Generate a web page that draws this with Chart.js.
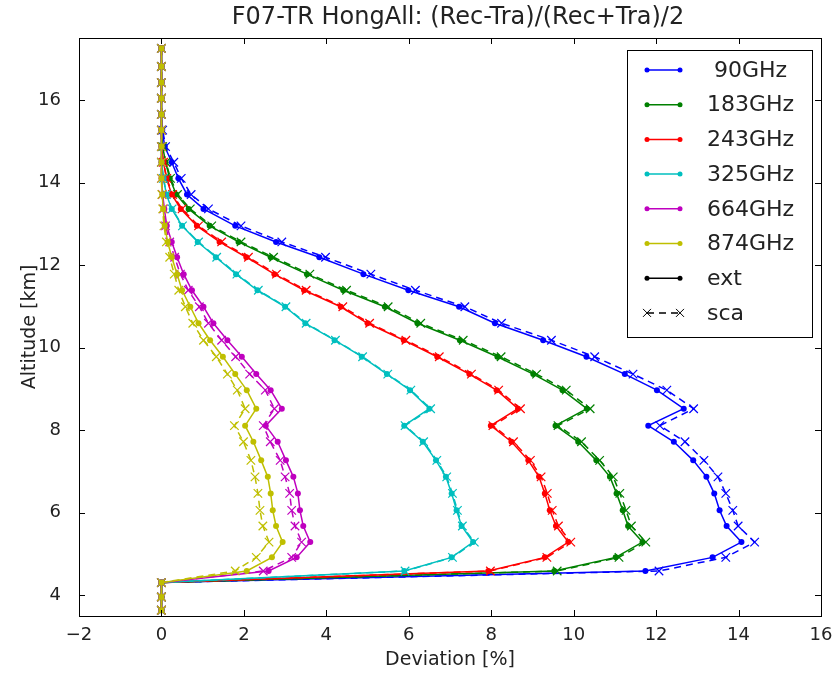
<!DOCTYPE html>
<html>
<head>
<meta charset="utf-8">
<script src="https://cdn.jsdelivr.net/npm/chart.js@4.4.0/dist/chart.umd.min.js"></script>
<style>
  body { margin: 0; background: #fff; }
  #wrap { width: 835px; height: 673px; }
</style>
</head>
<body>
<div id="wrap"><canvas id="chart" width="835" height="673"></canvas></div>
<script>
// altitude levels [km], shared by every profile
const altitude = [17.25, 16.81, 16.42, 16.04, 15.65, 15.27, 14.87, 14.49, 14.10, 13.71, 13.36, 12.95,
  12.56, 12.19, 11.78, 11.39, 10.99, 10.59, 10.18, 9.78, 9.36, 8.97, 8.52, 8.11,
  7.72, 7.27, 6.87, 6.47, 6.06, 5.68, 5.29, 4.92, 4.59, 4.31, 3.96, 3.64];

// deviation [%], ext = solid with dots, sca = dashed with crosses
const ext90 = [0, 0, 0, 0, 0, 0.02, 0.08, 0.25, 0.41, 0.62, 1.02, 1.79, 2.78, 3.83, 4.90, 5.99, 7.22, 8.09,
  9.26, 10.31, 11.24, 12.02, 12.67, 11.81, 12.43, 12.90, 13.22, 13.41, 13.54, 13.71, 14.07, 13.37, 11.74, 0, 0, 0];
const sca90 = [0, 0, 0, 0, 0, 0.03, 0.10, 0.30, 0.48, 0.72, 1.14, 1.93, 2.92, 3.98, 5.08, 6.16, 7.36, 8.25,
  9.46, 10.51, 11.44, 12.26, 12.91, 12.09, 12.70, 13.16, 13.50, 13.69, 13.86, 13.99, 14.39, 13.69, 12.07, 0, 0, 0];
const ext183 = [0, 0, 0, 0, 0, 0, 0.03, 0.10, 0.20, 0.36, 0.66, 1.17, 1.87, 2.65, 3.53, 4.41, 5.42, 6.21,
  7.24, 8.15, 9.02, 9.73, 10.32, 9.56, 10.11, 10.55, 10.88, 11.04, 11.19, 11.32, 11.67, 11.02, 9.53, 0, 0, 0];
const sca183 = [0, 0, 0, 0, 0, 0, 0.03, 0.11, 0.22, 0.39, 0.70, 1.22, 1.93, 2.72, 3.60, 4.49, 5.50, 6.29,
  7.32, 8.24, 9.10, 9.82, 10.40, 9.62, 10.19, 10.63, 10.96, 11.12, 11.27, 11.40, 11.75, 11.10, 9.60, 0, 0, 0];
const ext243 = [0, 0, 0, 0, 0, 0, 0, 0.05, 0.12, 0.25, 0.47, 0.86, 1.41, 2.06, 2.74, 3.46, 4.35, 5.00,
  5.88, 6.69, 7.47, 8.13, 8.65, 7.99, 8.49, 8.90, 9.16, 9.30, 9.42, 9.57, 9.87, 9.30, 7.93, 0, 0, 0];
const sca243 = [0, 0, 0, 0, 0, 0, 0, 0.05, 0.13, 0.27, 0.50, 0.90, 1.46, 2.11, 2.79, 3.51, 4.40, 5.05,
  5.93, 6.74, 7.52, 8.18, 8.71, 8.04, 8.54, 8.95, 9.21, 9.36, 9.48, 9.63, 9.93, 9.35, 7.98, 0, 0, 0];
const ext325 = [0, 0, 0, 0, 0, 0, 0, 0, 0.05, 0.12, 0.25, 0.50, 0.88, 1.32, 1.81, 2.33, 3.00, 3.49,
  4.20, 4.86, 5.47, 6.03, 6.50, 5.89, 6.34, 6.66, 6.90, 7.04, 7.16, 7.28, 7.56, 7.04, 5.89, 0, 0, 0];
const sca325 = [0, 0, 0, 0, 0, 0, 0, 0, 0.05, 0.12, 0.26, 0.51, 0.90, 1.34, 1.83, 2.35, 3.02, 3.51,
  4.22, 4.88, 5.49, 6.05, 6.53, 5.91, 6.36, 6.68, 6.92, 7.06, 7.18, 7.30, 7.59, 7.06, 5.91, 0, 0, 0];
const ext664 = [0, 0, 0, 0, 0, 0, 0, 0, 0, 0.03, 0.07, 0.13, 0.25, 0.38, 0.54, 0.74, 1.02, 1.26,
  1.60, 1.95, 2.30, 2.65, 2.92, 2.53, 2.82, 3.02, 3.20, 3.31, 3.36, 3.44, 3.61, 3.28, 2.60, 0, 0, 0];
const sca664 = [0, 0, 0, 0, 0, 0, 0, 0, 0, 0.02, 0.05, 0.10, 0.20, 0.32, 0.46, 0.65, 0.92, 1.14,
  1.46, 1.80, 2.14, 2.52, 2.74, 2.47, 2.64, 2.88, 3.00, 3.11, 3.16, 3.24, 3.40, 3.16, 2.47, 0, 0, 0];
const ext874 = [0, 0, 0, 0, 0, 0, 0, 0, 0, 0.02, 0.04, 0.08, 0.15, 0.25, 0.38, 0.50, 0.70, 0.90,
  1.18, 1.49, 1.79, 2.07, 2.30, 2.03, 2.23, 2.42, 2.58, 2.65, 2.70, 2.78, 2.94, 2.68, 2.07, 0, 0, 0];
const sca874 = [0, 0, 0, 0, 0, 0, 0, 0, 0, 0.01, 0.03, 0.06, 0.12, 0.20, 0.31, 0.42, 0.58, 0.76,
  1.02, 1.33, 1.60, 1.84, 2.03, 1.77, 1.99, 2.17, 2.27, 2.34, 2.39, 2.46, 2.61, 2.30, 1.79, 0, 0, 0];

const freqLabels = [" 90GHz", "183GHz", "243GHz", "325GHz", "664GHz", "874GHz"];
const extSeries = [ext90, ext183, ext243, ext325, ext664, ext874];
const scaSeries = [sca90, sca183, sca243, sca325, sca664, sca874];
const colors = ["#0000ff", "#008000", "#ff0000", "#00bfbf", "#bf00bf", "#bfbf00"];

const xTicks = [-2, 0, 2, 4, 6, 8, 10, 12, 14, 16];
const yTicks = [4, 6, 8, 10, 12, 14, 16];

const FONT = "'DejaVu Sans', sans-serif";

const toPoints = (vals) => vals.map((v, i) => ({ x: v, y: altitude[i] }));

const datasets = [];
let order = 0;
freqLabels.forEach((lab, k) => {
  datasets.push({
    label: lab,
    data: toPoints(extSeries[k]),
    showLine: true,
    borderColor: colors[k],
    backgroundColor: colors[k],
    borderWidth: 1.5,
    pointStyle: "circle",
    pointRadius: 3,
    pointBorderWidth: 0,
    order: order--,
  });
  datasets.push({
    label: lab + " sca",
    data: toPoints(scaSeries[k]),
    showLine: true,
    borderColor: colors[k],
    backgroundColor: colors[k],
    borderWidth: 1.5,
    borderDash: [7, 5],
    pointStyle: "crossRot",
    pointRadius: 6,
    pointBorderWidth: 1.2,
    order: order--,
  });
});

// frame with inward ticks on all four sides, like the classic matplotlib style
const framePlugin = {
  id: "frame",
  afterDatasetsDraw(chart) {
    const { ctx, chartArea: a, scales } = chart;
    ctx.save();
    ctx.strokeStyle = "#000";
    ctx.lineWidth = 1;
    ctx.beginPath();
    xTicks.forEach((t) => {
      const px = Math.round(scales.x.getPixelForValue(t)) + 0.5;
      ctx.moveTo(px, a.bottom); ctx.lineTo(px, a.bottom - 6);
      ctx.moveTo(px, a.top); ctx.lineTo(px, a.top + 6);
    });
    yTicks.forEach((t) => {
      const py = Math.round(scales.y.getPixelForValue(t)) + 0.5;
      ctx.moveTo(a.left, py); ctx.lineTo(a.left + 6, py);
      ctx.moveTo(a.right, py); ctx.lineTo(a.right - 6, py);
    });
    ctx.stroke();
    ctx.strokeRect(Math.round(a.left) + 0.5, Math.round(a.top) + 0.5,
      Math.round(a.right - a.left), Math.round(a.bottom - a.top));

    // legend
    const lx = 627.5, ly = 50.5, lw = 185, lh = 287;
    ctx.fillStyle = "#fff";
    ctx.fillRect(lx, ly, lw, lh);
    ctx.strokeRect(lx, ly, lw, lh);
    const rows = freqLabels.map((l, k) => ({ text: l, color: colors[k], sca: false }))
      .concat([{ text: "ext", color: "#000", sca: false }, { text: "sca", color: "#000", sca: true }]);
    ctx.font = "22px " + FONT;
    ctx.textBaseline = "middle";
    ctx.textAlign = "left";
    rows.forEach((r, i) => {
      const y = 70 + i * 34.7;
      const x1 = 647, x2 = 680;
      ctx.strokeStyle = r.color;
      ctx.fillStyle = r.color;
      ctx.lineWidth = 1.5;
      ctx.setLineDash(r.sca ? [7, 5] : []);
      ctx.beginPath(); ctx.moveTo(x1, y); ctx.lineTo(x2, y); ctx.stroke();
      ctx.setLineDash([]);
      if (r.sca) {
        ctx.lineWidth = 1;
        [x1, x2].forEach((x) => {
          ctx.beginPath();
          ctx.moveTo(x - 4, y - 4); ctx.lineTo(x + 4, y + 4);
          ctx.moveTo(x - 4, y + 4); ctx.lineTo(x + 4, y - 4);
          ctx.stroke();
        });
      } else {
        [x1, x2].forEach((x) => {
          ctx.beginPath(); ctx.arc(x, y, 2.5, 0, Math.PI * 2); ctx.fill();
        });
      }
      ctx.fillStyle = "#222";
      ctx.fillText(r.text, 707, y + 1);
    });
    ctx.restore();
  },
  afterDraw(chart) {
    const { ctx, chartArea: a } = chart;
    const cx = (a.left + a.right) / 2;
    ctx.save();
    ctx.fillStyle = "#222";
    ctx.textAlign = "center";
    ctx.textBaseline = "middle";
    ctx.font = "24px " + FONT;
    ctx.fillText("F07-TR HongAll: (Rec-Tra)/(Rec+Tra)/2", cx + 8, 18);
    ctx.font = "19px " + FONT;
    ctx.fillText("Deviation [%]", cx, 660);
    ctx.translate(30, (a.top + a.bottom) / 2);
    ctx.rotate(-Math.PI / 2);
    ctx.fillText("Altitude [km]", 0, 0);
    ctx.restore();
  },
};

new Chart(document.getElementById("chart").getContext("2d"), {
  type: "scatter",
  data: { datasets: datasets },
  options: {
    responsive: false,
    animation: false,
    layout: { padding: { left: 0, right: 14, top: 38, bottom: 0 } },
    plugins: { legend: { display: false }, tooltip: { enabled: false }, title: { display: false } },
    scales: {
      x: {
        type: "linear",
        min: -2,
        max: 16,
        grid: { display: false },
        border: { display: false },
        afterBuildTicks: (s) => { s.ticks = xTicks.map((v) => ({ value: v })); },
        afterFit: (s) => { s.height = 57; },
        ticks: {
          color: "#222",
          font: { family: FONT, size: 18 },
          padding: 1,
          callback: (v) => String(v).replace("-", "\u2212"),
        },
      },
      y: {
        type: "linear",
        min: 3.5,
        max: 17.5,
        grid: { display: false },
        border: { display: false },
        afterBuildTicks: (s) => { s.ticks = yTicks.map((v) => ({ value: v })); },
        afterFit: (s) => { s.width = 79; },
        ticks: {
          color: "#222",
          font: { family: FONT, size: 18 },
          padding: 10,
        },
      },
    },
  },
  plugins: [framePlugin],
});
</script>
</body>
</html>
